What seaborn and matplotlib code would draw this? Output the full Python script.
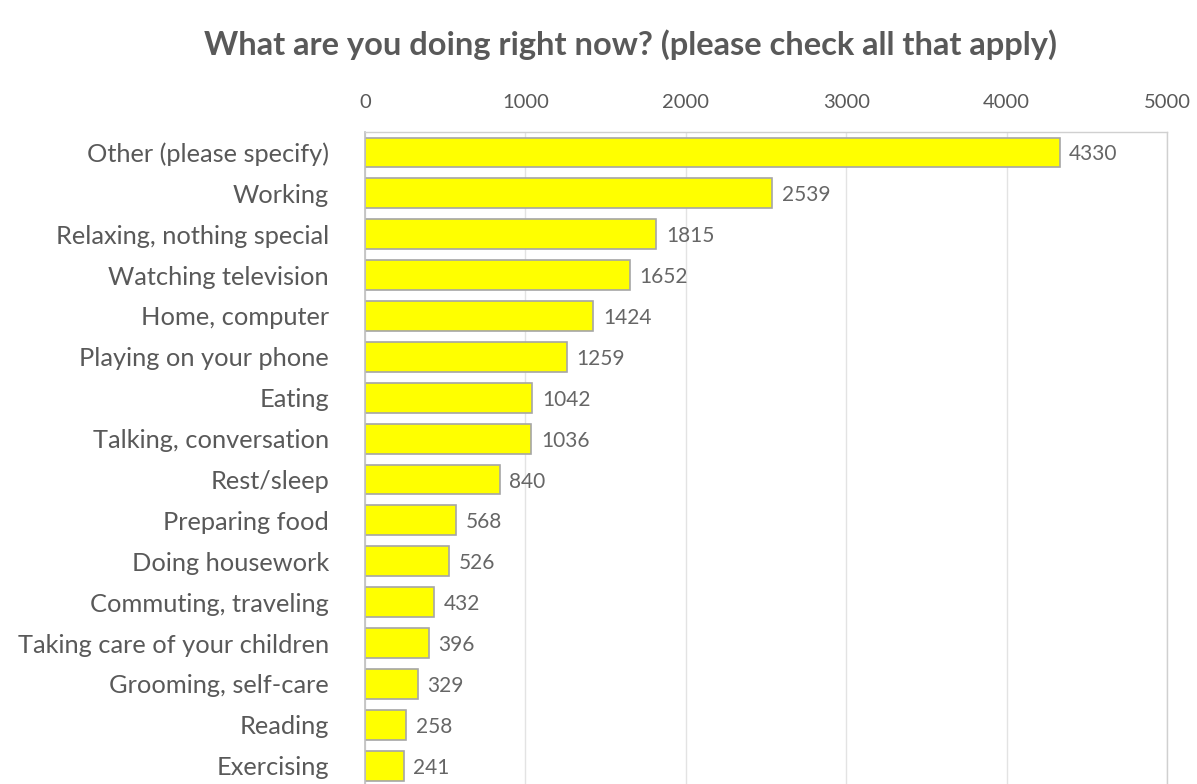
import matplotlib
matplotlib.use("Agg")
import matplotlib.pyplot as plt
import seaborn as sns
import pandas as pd

activities = [
    "Other (please specify)",
    "Working",
    "Relaxing, nothing special",
    "Watching television",
    "Home, computer",
    "Playing on your phone",
    "Eating",
    "Talking, conversation",
    "Rest/sleep",
    "Preparing food",
    "Doing housework",
    "Commuting, traveling",
    "Taking care of your children",
    "Grooming, self-care",
    "Reading",
    "Exercising",
]
counts = [4330, 2539, 1815, 1652, 1424, 1259, 1042, 1036, 840, 568, 526, 432, 396, 329, 258, 241]
x_ticks = [0, 1000, 2000, 3000, 4000, 5000]

title = "What are you doing right now? (please check all that apply)"

df = pd.DataFrame({"activity": activities, "count": counts})

sns.set_theme(style="white")
plt.rcParams["font.family"] = ["Lato", "DejaVu Sans"]

text_grey = "#595959"
W, H = 1197, 784
fig = plt.figure(figsize=(W / 100, H / 100), dpi=100)
fig.patch.set_facecolor("white")

# plot area runs past the lower edge of the figure
left, right, top, bottom = 365, 1167, 132, 827
ax = fig.add_axes([left / W, 1 - bottom / H, (right - left) / W, (bottom - top) / H])

sns.barplot(data=df, x="count", y="activity", orient="h", ax=ax,
            color="#FFFF00", edgecolor="#A6A6A6", linewidth=1.2,
            width=0.73, saturation=1)

ax.set_xlim(0, 5000)
ax.set_ylim(16.5, -0.5)
ax.set_xticks(x_ticks)
ax.xaxis.tick_top()
ax.xaxis.set_label_position("top")
ax.set_xlabel("")
ax.set_ylabel("")
ax.tick_params(axis="x", length=0, pad=15, labelsize=14.5, labelcolor=text_grey)
ax.tick_params(axis="y", length=0, pad=26, labelsize=18.3, labelcolor=text_grey)

ax.grid(axis="x", color="#E3E3E3", linewidth=1)
ax.set_axisbelow(True)
for side in ["top", "right", "bottom"]:
    ax.spines[side].set_color("#D0D0D0")
    ax.spines[side].set_linewidth(1)
ax.spines["left"].set_color("#BFBFBF")
ax.spines["left"].set_linewidth(1.2)

value_texts = ax.bar_label(ax.containers[0], labels=[str(v) for v in counts],
                           padding=7, fontsize=15, color="#666666")
for t in value_texts:
    t.set_va("center_baseline")

fig.text(630 / W, 1 - 45 / H, title, ha="center", va="center",
         fontsize=23.5, fontweight="bold", color=text_grey)

fig.savefig("out.png", dpi=100, facecolor="white")
